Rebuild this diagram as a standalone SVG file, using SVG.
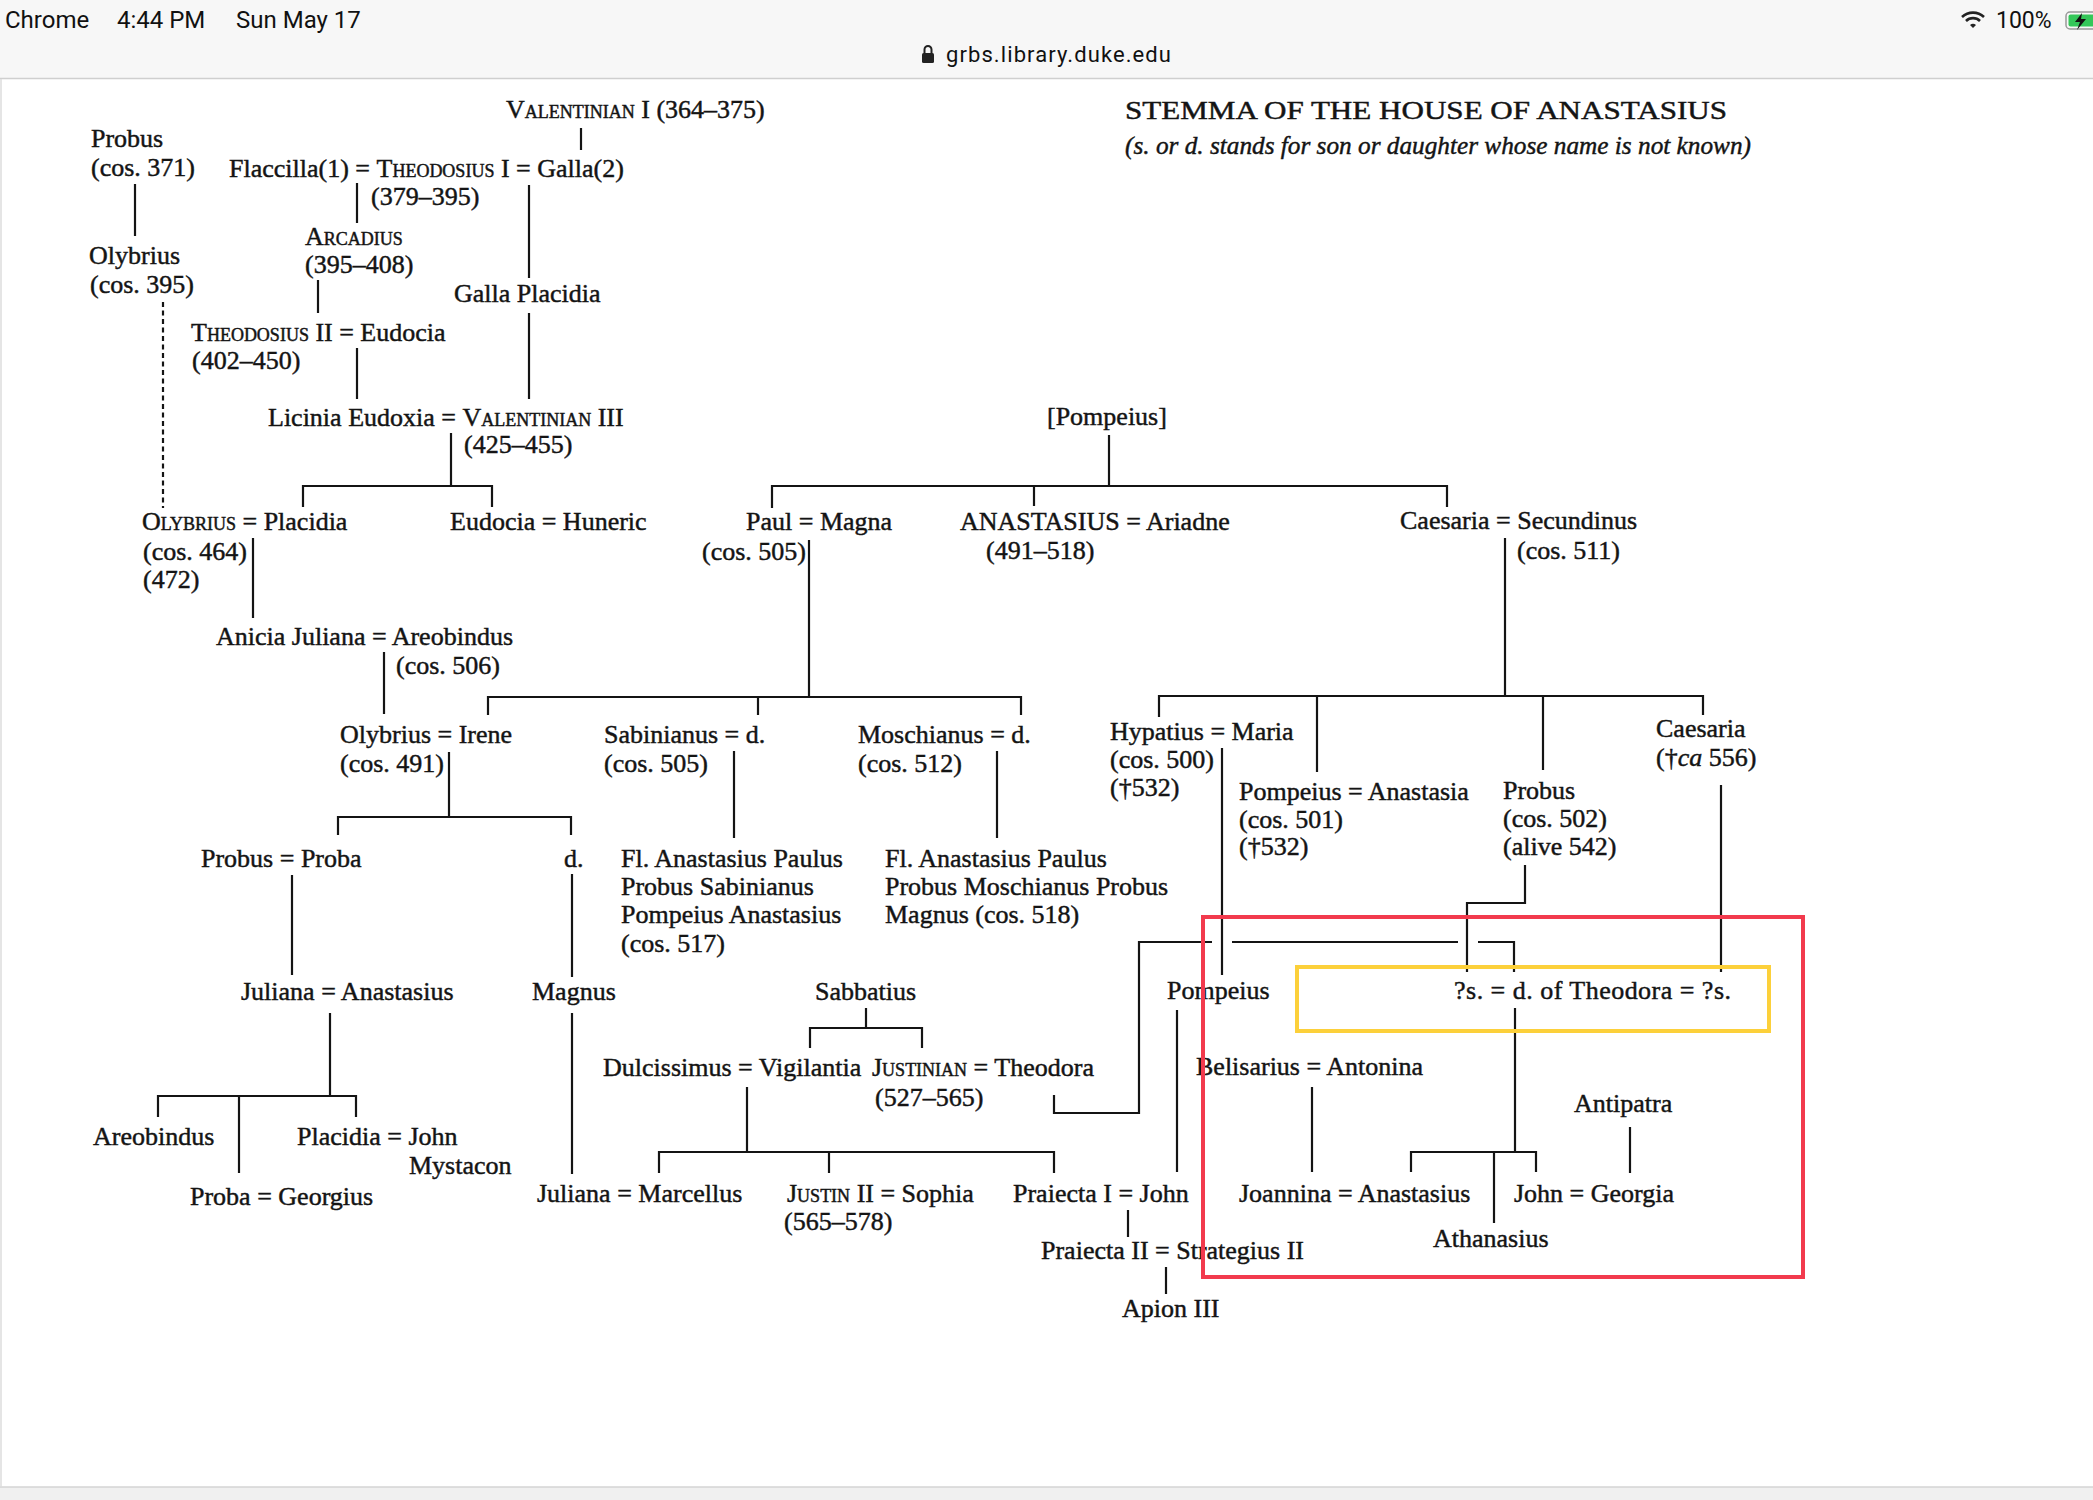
<svg xmlns="http://www.w3.org/2000/svg" width="2093" height="1500" viewBox="0 0 2093 1500">
<style>
.t{font-family:"Liberation Serif","Times New Roman",serif;font-size:26px;fill:#141414;stroke:#141414;stroke-width:0.45}
.sc{font-variant:small-caps}
.it{font-style:italic}
.ui{font-family:Roboto,"Liberation Sans",sans-serif;fill:#111}
#connectors line,#connectors polyline{stroke:#141414;stroke-width:2.2;fill:none}
.dash{stroke-dasharray:5 3.5}
</style>
<rect x="0" y="0" width="2093" height="1500" fill="#ffffff"/>
<rect x="0" y="0" width="2093" height="78" fill="#f7f7f7"/>
<line x1="0" y1="78.5" x2="2093" y2="78.5" stroke="#cfcfcf" stroke-width="1.5"/>
<rect x="0" y="1487" width="2093" height="13" fill="#f0f0f0"/>
<line x1="0" y1="1487" x2="2093" y2="1487" stroke="#d4d4d4" stroke-width="1.5"/>
<line x1="1" y1="79" x2="1" y2="1487" stroke="#dddddd" stroke-width="1.5"/>

<g id="statusbar">
<text class="ui" x="5" y="28" font-size="24">Chrome</text>
<text class="ui" x="117" y="28" font-size="24">4:44 PM</text>
<text class="ui" x="236" y="28" font-size="24">Sun May 17</text>
<rect x="922" y="53" width="12" height="10" rx="1.5" fill="#222"/>
<path d="M924.5,53 v-3.5 a3.5,3.5 0 0 1 7,0 v3.5" stroke="#222" stroke-width="2" fill="none"/>
<text class="ui" x="946" y="62" font-size="22" textLength="225">grbs.library.duke.edu</text>
<path d="M1962,17 A16,16 0 0 1 1984,17" stroke="#222" stroke-width="2.6" fill="none"/>
<path d="M1966,21 A10,10 0 0 1 1980,21" stroke="#222" stroke-width="2.6" fill="none"/>
<path d="M1970,25 L1973,28 L1976,25 A4.5,4.5 0 0 0 1970,25 Z" fill="#222"/>
<text class="ui" x="1996" y="28" font-size="23">100%</text>
<rect x="2066" y="12" width="30" height="17" rx="4" fill="none" stroke="#999" stroke-width="1.5"/>
<rect x="2068.5" y="14.5" width="26" height="12" rx="2" fill="#34c759"/>
<path d="M2082,13 L2075,22 L2080,22 L2077,30 L2086,19 L2081,19 Z" fill="#111"/>
</g>

<g id="title">
<text class="t" x="1125" y="119" font-size="33" textLength="602" lengthAdjust="spacingAndGlyphs">STEMMA OF THE HOUSE OF ANASTASIUS</text>
<text class="t it" x="1125" y="154" font-size="27" textLength="626" lengthAdjust="spacingAndGlyphs">(s. or d. stands for son or daughter whose name is not known)</text>
</g>

<g id="connectors">
<line x1="581" y1="128" x2="581" y2="150"/>
<line x1="135" y1="184" x2="135" y2="236"/>
<line x1="357" y1="183" x2="357" y2="223"/>
<line x1="529" y1="185" x2="529" y2="278"/>
<line x1="318" y1="280" x2="318" y2="313"/>
<line x1="529" y1="313" x2="529" y2="399"/>
<line x1="357" y1="348" x2="357" y2="399"/>
<line class="dash" x1="163" y1="302" x2="163" y2="508"/>
<line x1="451" y1="433" x2="451" y2="486"/>
<polyline points="303,507 303,486 492,486 492,507"/>
<line x1="253" y1="538" x2="253" y2="618"/>
<line x1="384" y1="652" x2="384" y2="714"/>
<line x1="449" y1="752" x2="449" y2="817"/>
<polyline points="338,835 338,817 571,817 571,835"/>
<line x1="292" y1="875" x2="292" y2="975"/>
<line x1="572" y1="874" x2="572" y2="977"/>
<line x1="330" y1="1013" x2="330" y2="1096"/>
<polyline points="158,1117 158,1096 356,1096 356,1117"/>
<line x1="239" y1="1096" x2="239" y2="1173"/>
<line x1="572" y1="1013" x2="572" y2="1174"/>
<line x1="1109" y1="435" x2="1109" y2="486"/>
<polyline points="772,508 772,486 1447,486 1447,507"/>
<line x1="1034" y1="486" x2="1034" y2="506"/>
<line x1="809" y1="540" x2="809" y2="697"/>
<polyline points="488,715 488,697 1021,697 1021,715"/>
<line x1="758" y1="697" x2="758" y2="715"/>
<line x1="734" y1="751" x2="734" y2="838"/>
<line x1="997" y1="751" x2="997" y2="838"/>
<line x1="1505" y1="538" x2="1505" y2="696"/>
<polyline points="1159,717 1159,696 1703,696 1703,715"/>
<line x1="1317" y1="696" x2="1317" y2="772"/>
<line x1="1543" y1="696" x2="1543" y2="770"/>
<line x1="1222" y1="748" x2="1222" y2="975"/>
<line x1="1721" y1="785" x2="1721" y2="972"/>
<polyline points="1525,865 1525,903 1467,903 1467,972"/>
<polyline points="1054,1095 1054,1113 1139,1113 1139,942 1212,942"/>
<line x1="1232" y1="942" x2="1458" y2="942"/>
<polyline points="1478,942 1514,942 1514,972"/>
<line x1="866" y1="1008" x2="866" y2="1028"/>
<polyline points="810,1048 810,1028 922,1028 922,1048"/>
<line x1="747" y1="1087" x2="747" y2="1152"/>
<polyline points="659,1173 659,1152 1054,1152 1054,1173"/>
<line x1="829" y1="1152" x2="829" y2="1173"/>
<line x1="1177" y1="1010" x2="1177" y2="1172"/>
<line x1="1312" y1="1087" x2="1312" y2="1172"/>
<line x1="1515" y1="1008" x2="1515" y2="1152"/>
<polyline points="1411,1172 1411,1152 1536,1152 1536,1172"/>
<line x1="1494" y1="1152" x2="1494" y2="1223"/>
<line x1="1630" y1="1127" x2="1630" y2="1173"/>
<line x1="1128" y1="1210" x2="1128" y2="1237"/>
<line x1="1166" y1="1267" x2="1166" y2="1294"/>
</g>

<g id="n-valentinian1"><text class="t" x="506" y="118"><tspan class="sc">Valentinian</tspan> I (364–375)</text></g>
<g id="n-probus371"><text class="t" x="91" y="147">Probus</text><text class="t" x="91" y="176">(cos. 371)</text></g>
<g id="n-theodosius1"><text class="t" x="229" y="177">Flaccilla(1) = <tspan class="sc">Theodosius</tspan> I = Galla(2)</text><text class="t" x="371" y="205">(379–395)</text></g>
<g id="n-arcadius"><text class="t" x="305" y="245"><tspan class="sc">Arcadius</tspan></text><text class="t" x="305" y="273">(395–408)</text></g>
<g id="n-olybrius395"><text class="t" x="89" y="264">Olybrius</text><text class="t" x="90" y="293">(cos. 395)</text></g>
<g id="n-gallaplacidia"><text class="t" x="454" y="302">Galla Placidia</text></g>
<g id="n-theodosius2"><text class="t" x="191" y="341"><tspan class="sc">Theodosius</tspan> II = Eudocia</text><text class="t" x="192" y="369">(402–450)</text></g>
<g id="n-valentinian3"><text class="t" x="268" y="426">Licinia Eudoxia = <tspan class="sc">Valentinian</tspan> III</text><text class="t" x="464" y="453">(425–455)</text></g>
<g id="n-pompeius-root"><text class="t" x="1047" y="425">[Pompeius]</text></g>
<g id="n-olybrius-placidia"><text class="t" x="142" y="530"><tspan class="sc">Olybrius</tspan> = Placidia</text><text class="t" x="143" y="560">(cos. 464)</text><text class="t" x="143" y="588">(472)</text></g>
<g id="n-eudocia-huneric"><text class="t" x="450" y="530">Eudocia = Huneric</text></g>
<g id="n-paul-magna"><text class="t" x="746" y="530">Paul = Magna</text><text class="t" x="702" y="560">(cos. 505)</text></g>
<g id="n-anastasius-ariadne"><text class="t" x="960" y="530">ANASTASIUS = Ariadne</text><text class="t" x="986" y="559">(491–518)</text></g>
<g id="n-caesaria-secundinus"><text class="t" x="1400" y="529">Caesaria = Secundinus</text><text class="t" x="1517" y="559">(cos. 511)</text></g>
<g id="n-anicia-areobindus"><text class="t" x="216" y="645">Anicia Juliana = Areobindus</text><text class="t" x="396" y="674">(cos. 506)</text></g>
<g id="n-olybrius-irene"><text class="t" x="340" y="743">Olybrius = Irene</text><text class="t" x="340" y="772">(cos. 491)</text></g>
<g id="n-sabinianus"><text class="t" x="604" y="743">Sabinianus = d.</text><text class="t" x="604" y="772">(cos. 505)</text></g>
<g id="n-moschianus"><text class="t" x="858" y="743">Moschianus = d.</text><text class="t" x="858" y="772">(cos. 512)</text></g>
<g id="n-hypatius-maria"><text class="t" x="1110" y="740">Hypatius = Maria</text><text class="t" x="1110" y="768">(cos. 500)</text><text class="t" x="1110" y="796">(†532)</text></g>
<g id="n-caesaria"><text class="t" x="1656" y="737">Caesaria</text><text class="t" x="1656" y="766">(†<tspan class="it">ca</tspan> 556)</text></g>
<g id="n-pompeius-anastasia"><text class="t" x="1239" y="800">Pompeius = Anastasia</text><text class="t" x="1239" y="828">(cos. 501)</text><text class="t" x="1239" y="855">(†532)</text></g>
<g id="n-probus502"><text class="t" x="1503" y="799">Probus</text><text class="t" x="1503" y="827">(cos. 502)</text><text class="t" x="1503" y="855">(alive 542)</text></g>
<g id="n-probus-proba"><text class="t" x="201" y="867">Probus = Proba</text></g>
<g id="n-d"><text class="t" x="564" y="867">d.</text></g>
<g id="n-fl-sabinianus"><text class="t" x="621" y="867">Fl. Anastasius Paulus</text><text class="t" x="621" y="895">Probus Sabinianus</text><text class="t" x="621" y="923">Pompeius Anastasius</text><text class="t" x="621" y="952">(cos. 517)</text></g>
<g id="n-fl-moschianus"><text class="t" x="885" y="867">Fl. Anastasius Paulus</text><text class="t" x="885" y="895">Probus Moschianus Probus</text><text class="t" x="885" y="923">Magnus (cos. 518)</text></g>
<g id="n-juliana-anastasius"><text class="t" x="241" y="1000">Juliana = Anastasius</text></g>
<g id="n-magnus"><text class="t" x="532" y="1000">Magnus</text></g>
<g id="n-sabbatius"><text class="t" x="815" y="1000">Sabbatius</text></g>
<g id="n-pompeius"><text class="t" x="1167" y="999">Pompeius</text></g>
<g id="n-d-of-theodora"><text class="t" x="1454" y="999" textLength="277">?s. = d. of  Theodora = ?s.</text></g>
<g id="n-dulcissimus"><text class="t" x="603" y="1076">Dulcissimus = Vigilantia</text></g>
<g id="n-justinian"><text class="t" x="872" y="1076"><tspan class="sc">Justinian</tspan> = Theodora</text><text class="t" x="875" y="1106">(527–565)</text></g>
<g id="n-belisarius"><text class="t" x="1196" y="1075">Belisarius = Antonina</text></g>
<g id="n-antipatra"><text class="t" x="1574" y="1112">Antipatra</text></g>
<g id="n-areobindus"><text class="t" x="93" y="1145">Areobindus</text></g>
<g id="n-placidia-john"><text class="t" x="297" y="1145">Placidia = John</text><text class="t" x="409" y="1174">Mystacon</text></g>
<g id="n-proba-georgius"><text class="t" x="190" y="1205">Proba = Georgius</text></g>
<g id="n-juliana-marcellus"><text class="t" x="537" y="1202">Juliana = Marcellus</text></g>
<g id="n-justin2"><text class="t" x="787" y="1202"><tspan class="sc">Justin</tspan> II = Sophia</text><text class="t" x="784" y="1230">(565–578)</text></g>
<g id="n-praiecta1"><text class="t" x="1013" y="1202">Praiecta I = John</text></g>
<g id="n-joannina"><text class="t" x="1239" y="1202">Joannina = Anastasius</text></g>
<g id="n-john-georgia"><text class="t" x="1514" y="1202">John = Georgia</text></g>
<g id="n-athanasius"><text class="t" x="1433" y="1247">Athanasius</text></g>
<g id="n-praiecta2"><text class="t" x="1041" y="1259">Praiecta II = Strategius II</text></g>
<g id="n-apion"><text class="t" x="1122" y="1317">Apion III</text></g>

<g id="highlights">
<rect x="1203" y="917" width="600" height="360" fill="none" stroke="#f23a4d" stroke-width="4"/>
<rect x="1297" y="967" width="472" height="64" fill="none" stroke="#fcd03a" stroke-width="4"/>
</g>
</svg>
